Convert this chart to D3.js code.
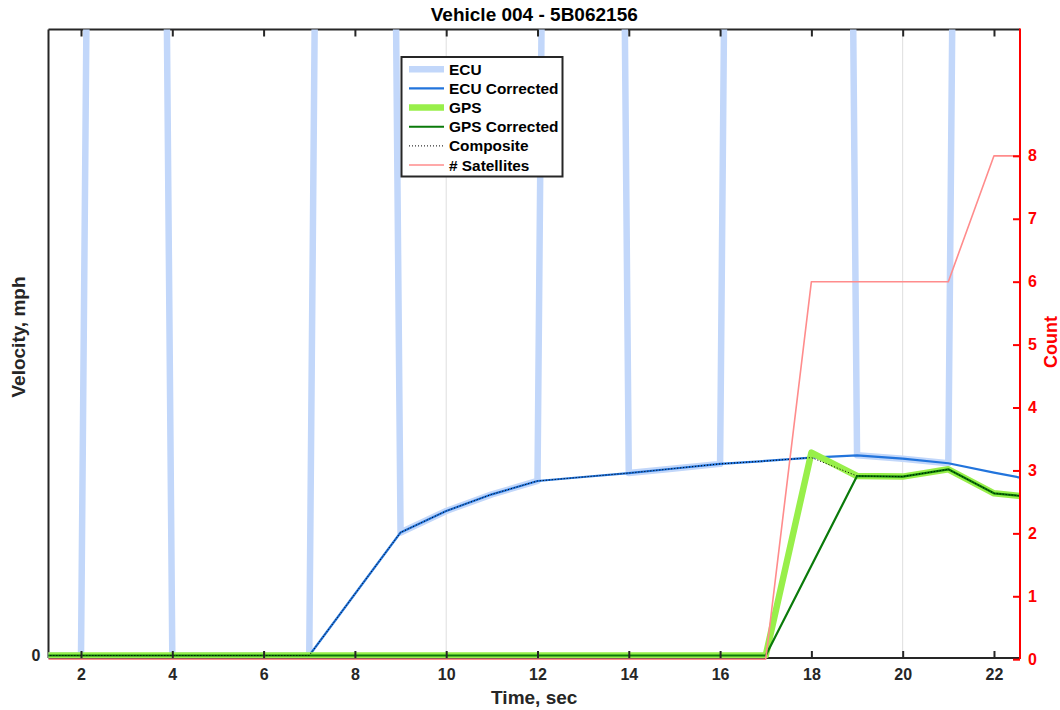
<!DOCTYPE html>
<html>
<head>
<meta charset="utf-8">
<script src="https://cdn.jsdelivr.net/npm/d3@7"></script>
<style>
  html, body { margin: 0; padding: 0; background: #ffffff; }
  svg text { font-family: "Liberation Sans", Arial, Helvetica, sans-serif; font-weight: bold; }
</style>
</head>
<body>
<svg id="chart" width="1060" height="710"></svg>
<script>
// ---------------- data ----------------
const time          = [1, 2, 3, 4, 5, 6, 7, 8, 9, 10, 11, 12, 13, 14, 15, 16, 17, 18, 19, 20, 21, 22, 23];
const ecuRaw        = [0, 0, 255, 0, 0, 0, 0, 255, 5.90, 6.93, 7.73, 8.37, 255, 8.75, 8.97, 9.19, 255, 255, 9.60, 9.44, 9.22, 255, 255];
const ecuCorrected  = [0, 0, 0, 0, 0, 0, 0, 2.95, 5.90, 6.93, 7.73, 8.37, 8.56, 8.75, 8.97, 9.19, 9.33, 9.49, 9.60, 9.44, 9.22, 8.77, 8.36];
const gps           = [0, 0, 0, 0, 0, 0, 0, 0, 0, 0, 0, 0, 0, 0, 0, 0, 0, 9.73, 8.61, 8.58, 8.93, 7.78, 7.56];
const gpsCorrected  = [0, 0, 0, 0, 0, 0, 0, 0, 0, 0, 0, 0, 0, 0, 0, 0, 0, 4.30, 8.61, 8.58, 8.93, 7.78, 7.56];
const composite     = [0, 0, 0, 0, 0, 0, 0, 2.95, 5.90, 6.93, 7.73, 8.37, 8.56, 8.75, 8.97, 9.19, 9.33, 9.49, 8.61, 8.58, 8.93, 7.78, 7.56];
const satellites    = [0, 0, 0, 0, 0, 0, 0, 0, 0, 0, 0, 0, 0, 0, 0, 0, 0, 6, 6, 6, 6, 8, 8];

const xTicks      = [2, 4, 6, 8, 10, 12, 14, 16, 18, 20, 22];
const xGrid       = [10, 20];
const yLeftTicks  = [0];
const yRightTicks = [0, 1, 2, 3, 4, 5, 6, 7, 8];
const xDomain     = [1.288, 22.57];
const yLeftDomain = [0, 30];
const yRightDomain = [0, 10];

const titleText  = "Vehicle 004 - 5B062156";
const xLabelText = "Time, sec";
const yLabelText = "Velocity, mph";
const y2LabelText = "Count";

const seriesNames = ["ECU", "ECU Corrected", "GPS", "GPS Corrected", "Composite", "# Satellites"];

// ---------------- layout ----------------
const L = 48.5, R = 1020, T = 29.5, B = 658;
const axisColor = "#262626";
const red = "#ff0000";

const svg = d3.select("#chart");
svg.append("rect").attr("width", 1060).attr("height", 710).attr("fill", "#fff");

const x  = d3.scaleLinear().domain(xDomain).range([L, R]);
const yL = d3.scaleLinear().domain(yLeftDomain).range([655.5, 30]);
const yR = d3.scaleLinear().domain(yRightDomain).range([659.2, 30]);

const defs = svg.append("defs");
defs.append("clipPath").attr("id", "clipL")
  .append("rect").attr("x", L).attr("y", T).attr("width", R - L).attr("height", B - T);
defs.append("clipPath").attr("id", "clipR")
  .append("rect").attr("x", L).attr("y", T).attr("width", R - L).attr("height", B - T + 4);

// grid
svg.append("g").selectAll("line").data(xGrid).join("line")
  .attr("x1", d => x(d)).attr("x2", d => x(d))
  .attr("y1", T).attr("y2", B)
  .attr("stroke", "#dedede").attr("stroke-width", 1);

// box lines (drawn under the data)
const box = svg.append("g").attr("stroke", axisColor).attr("stroke-width", 2).attr("fill", "none");
box.append("path").attr("d", `M${L},${B}H${R}`);
box.append("path").attr("d", `M${L},${T}H${R}`);
box.append("path").attr("d", `M${L},${B}V${T}`);

const styles = [
  { name: seriesNames[0], vals: ecuRaw,       scale: yL, clip: "clipL", color: "#c2d7fa", width: 6.5, dash: null },
  { name: seriesNames[1], vals: ecuCorrected, scale: yL, clip: "clipL", color: "#2274dc", width: 2.2, dash: null },
  { name: seriesNames[2], vals: gps,          scale: yL, clip: "clipL", color: "#98ef4a", width: 6.5, dash: null },
  { name: seriesNames[3], vals: gpsCorrected, scale: yL, clip: "clipL", color: "#0a7a0a", width: 2.2, dash: null },
  { name: seriesNames[4], vals: composite,    scale: yL, clip: "clipL", color: "#000000", width: 1,   dash: "1,2" },
  { name: seriesNames[5], vals: satellites,   scale: yR, clip: "clipR", color: "#ff8c8c", width: 1.6, dash: null }
];

styles.forEach(s => {
  const line = d3.line().x((d, i) => x(time[i])).y(d => s.scale(d));
  svg.append("g").attr("clip-path", `url(#${s.clip})`)
    .append("path")
    .attr("d", line(s.vals))
    .attr("fill", "none")
    .attr("stroke", s.color)
    .attr("stroke-width", s.width)
    .attr("stroke-linejoin", "round")
    .attr("stroke-dasharray", s.dash);
});

// ---------------- axes (ticks and labels over the data) ----------------
const fontSize = 16;
const gx = svg.append("g").attr("transform", `translate(0,${B})`)
  .call(d3.axisBottom(x).tickValues(xTicks).tickSizeInner(-7).tickSizeOuter(0).tickPadding(11).tickFormat(d3.format("d")));
const gxTop = svg.append("g").attr("transform", `translate(0,${T})`)
  .call(d3.axisTop(x).tickValues(xTicks).tickSizeInner(-7).tickSizeOuter(0).tickFormat(""));
const gy = svg.append("g").attr("transform", `translate(${L},0)`)
  .call(d3.axisLeft(yL).tickValues(yLeftTicks).tickSizeInner(-7).tickSizeOuter(0).tickPadding(8).tickFormat(d3.format("d")));

[gx, gxTop, gy].forEach(g => {
  g.select(".domain").remove();
  g.selectAll(".tick line").attr("stroke", axisColor).attr("stroke-width", 2);
  g.selectAll(".tick text").attr("fill", axisColor).attr("font-size", fontSize);
});
gy.selectAll(".tick line").remove();

const gr = svg.append("g").attr("transform", `translate(${R},0)`)
  .call(d3.axisRight(yR).tickValues(yRightTicks).tickSizeInner(-7).tickSizeOuter(0).tickPadding(8).tickFormat(d3.format("d")));
gr.select(".domain").attr("d", `M0,${B + 1}V${T - 1}`).attr("stroke", red).attr("stroke-width", 2);
gr.selectAll(".tick line").attr("stroke", red).attr("stroke-width", 2);
gr.selectAll(".tick text").attr("fill", red).attr("font-size", fontSize);

// ---------------- labels ----------------
svg.append("text").attr("x", (L + R) / 2).attr("y", 21).attr("text-anchor", "middle")
  .attr("font-size", 19).attr("fill", "#000").text(titleText);
svg.append("text").attr("x", (L + R) / 2).attr("y", 704).attr("text-anchor", "middle")
  .attr("font-size", 19).attr("fill", axisColor).text(xLabelText);
svg.append("text").attr("transform", `translate(25,${337}) rotate(-90)`).attr("text-anchor", "middle")
  .attr("font-size", 19).attr("fill", axisColor).text(yLabelText);
svg.append("text").attr("transform", `translate(1057,${342}) rotate(-90)`).attr("text-anchor", "middle")
  .attr("font-size", 18).attr("fill", red).text(y2LabelText);

// ---------------- legend ----------------
const lg = svg.append("g");
lg.append("rect").attr("x", 401.5).attr("y", 57).attr("width", 161).attr("height", 119.5)
  .attr("fill", "#fff").attr("stroke", axisColor).attr("stroke-width", 2);
styles.forEach((s, i) => {
  const yy = 69.3 + i * 19.15;
  lg.append("line").attr("x1", 409).attr("x2", 444).attr("y1", yy).attr("y2", yy)
    .attr("stroke", s.color).attr("stroke-width", s.width).attr("stroke-dasharray", s.dash);
  lg.append("text").attr("x", 449).attr("y", yy).attr("dy", "0.36em")
    .attr("font-size", 15.4).attr("fill", "#000").text(s.name);
});
</script>
</body>
</html>
